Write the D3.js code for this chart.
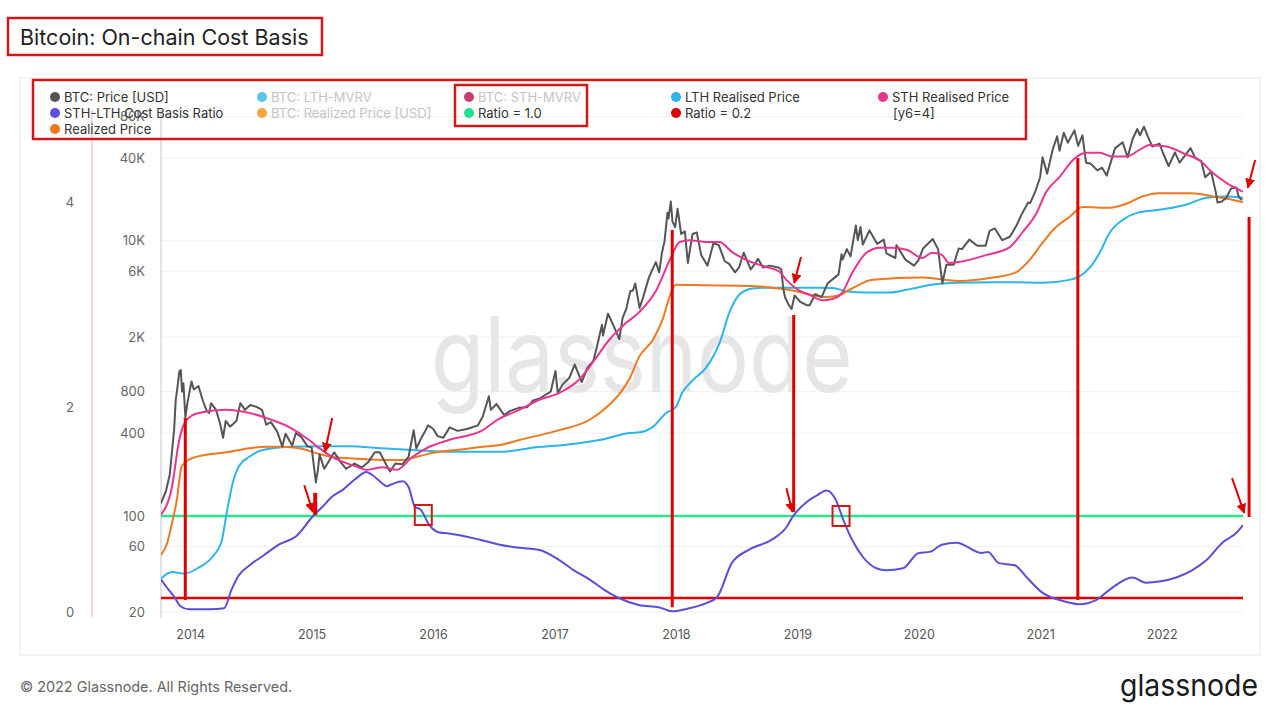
<!DOCTYPE html>
<html><head><meta charset="utf-8">
<script src="https://cdn.jsdelivr.net/npm/d3@7"></script>
<style>
body{margin:0;background:#fff;}
text{font-family:Inter,"Noto Sans",sans-serif;}
</style></head><body>
<svg id="c" width="1280" height="710"></svg>
<script>
// ---------------- DATA ----------------
const yearTicks = [2014,2015,2016,2017,2018,2019,2020,2021,2022];
const priceTicks = [20,60,100,400,800,2000,6000,10000,40000,80000];
const priceTickLabels = ["20","60","100","400","800","2K","6K","10K","40K","80K"];
const ratioTicks = [0,2,4];

const priceDates = ["2013-10-05","2013-10-20","2013-11-01","2013-11-08","2013-11-14","2013-11-19","2013-11-23","2013-11-30","2013-12-04","2013-12-08","2013-12-12","2013-12-18","2013-12-24",
"2014-01-05","2014-01-12","2014-01-26","2014-02-08","2014-02-20","2014-02-27","2014-03-05","2014-03-20","2014-04-01","2014-04-10","2014-04-18","2014-05-01","2014-05-20","2014-06-01","2014-06-15","2014-07-01","2014-07-20","2014-08-05","2014-08-18","2014-09-01","2014-09-20","2014-10-05","2014-10-15","2014-11-04","2014-11-15","2014-12-01","2014-12-20",
"2015-01-01","2015-01-14","2015-01-20","2015-01-25","2015-02-08","2015-02-20","2015-03-10","2015-03-30","2015-04-15","2015-05-10","2015-06-01","2015-06-20","2015-07-10","2015-07-25","2015-08-18","2015-08-25","2015-09-10","2015-10-01","2015-10-20","2015-11-04","2015-11-12","2015-11-25","2015-12-08","2015-12-17",
"2016-01-01","2016-01-15","2016-02-01","2016-02-20","2016-03-15","2016-04-15","2016-05-15","2016-05-30","2016-06-17","2016-06-23","2016-07-10","2016-08-02","2016-08-20","2016-09-15","2016-10-10","2016-10-28","2016-11-15","2016-12-01","2016-12-20",
"2017-01-04","2017-01-11","2017-01-25","2017-02-15","2017-03-03","2017-03-24","2017-04-10","2017-04-28","2017-05-10","2017-05-24","2017-05-27","2017-06-11","2017-06-25","2017-07-15","2017-07-25","2017-08-05","2017-08-17","2017-08-25","2017-09-01","2017-09-14","2017-09-25","2017-10-12","2017-10-20","2017-11-02","2017-11-12","2017-11-20","2017-11-28","2017-12-07","2017-12-10","2017-12-17","2017-12-22","2017-12-30",
"2018-01-06","2018-01-17","2018-01-28","2018-02-06","2018-02-20","2018-03-05","2018-03-18","2018-04-06","2018-04-24","2018-05-10","2018-05-28","2018-06-10","2018-06-28","2018-07-10","2018-07-24","2018-08-14","2018-08-25","2018-09-05","2018-09-20","2018-10-10","2018-11-05","2018-11-14","2018-11-20","2018-11-25","2018-12-07","2018-12-15","2018-12-24",
"2019-01-10","2019-01-29","2019-02-07","2019-02-24","2019-03-15","2019-04-02","2019-04-23","2019-05-05","2019-05-14","2019-05-17","2019-05-30","2019-06-10","2019-06-26","2019-07-02","2019-07-10","2019-07-17","2019-08-06","2019-08-29","2019-09-18","2019-09-26","2019-10-23","2019-10-26","2019-11-22","2019-12-18","2019-12-31",
"2020-01-14","2020-02-12","2020-02-28","2020-03-12","2020-03-24","2020-04-15","2020-04-30","2020-05-10","2020-06-01","2020-06-25","2020-07-20","2020-08-01","2020-08-17","2020-09-08","2020-10-01","2020-10-21","2020-11-05","2020-11-25","2020-12-01","2020-12-17","2020-12-31",
"2021-01-08","2021-01-22","2021-02-08","2021-02-21","2021-02-28","2021-03-13","2021-03-25","2021-04-14","2021-04-25","2021-05-08","2021-05-19","2021-06-01","2021-06-22","2021-07-06","2021-07-20","2021-08-14","2021-09-06","2021-09-21","2021-10-06","2021-10-20","2021-10-28","2021-11-09","2021-11-20","2021-12-04","2021-12-26",
"2022-01-05","2022-01-22","2022-02-10","2022-02-24","2022-03-29","2022-04-12","2022-04-30","2022-05-12","2022-05-30","2022-06-13","2022-06-18","2022-07-01","2022-07-14","2022-07-29","2022-08-14","2022-08-20","2022-08-28","2022-09-01"];
const priceValues = [123,150,200,300,420,700,820,1130,1150,800,920,520,660,
950,830,880,690,580,560,660,590,470,370,490,445,490,660,590,640,620,590,460,480,410,320,395,325,400,375,320,
315,175,215,280,220,245,290,245,220,240,225,245,290,290,225,210,240,237,270,420,310,360,410,455,
430,380,370,440,415,430,455,530,740,590,650,540,580,610,615,690,710,750,800,
1130,780,900,1010,1260,940,1190,1340,1750,2450,2050,2950,2500,1930,2750,3200,4300,4350,4900,3250,3900,5400,6000,7000,5900,8100,9900,16000,14500,19300,13800,12600,
17100,11200,11700,6900,11200,11500,7900,6600,9600,9300,7100,6800,5900,6400,8200,6200,6700,7400,6400,6600,6400,6200,4500,3900,3400,3200,4000,
3600,3400,3400,4100,3900,4900,5400,5700,8000,7300,8700,7700,12900,10100,12600,9400,11900,9500,10200,8100,7500,9300,7300,6600,7200,
8800,10300,8700,4900,6700,6700,8800,8700,10200,9200,9200,11800,12300,10100,10700,12900,15500,19000,18800,23000,29000,
40500,30800,46500,57500,45200,61000,51700,63500,49000,58500,37000,36500,32500,34000,29800,47000,52000,40500,55000,65000,58500,67500,58000,48500,50800,
43500,35000,44000,37000,47200,40000,38000,29000,31800,22500,19000,19300,20500,24000,24400,21200,20000,20000];

// [decimal year, USD]
const sthRealised = [[2013.76,102],[2013.85,162],[2013.91,356],[2013.97,498],[2014.07,560],[2014.30,590],[2014.43,575],[2014.63,514],[2014.82,440],[2014.98,356],[2015.06,312],[2015.17,268],[2015.37,228],[2015.45,216],[2015.53,222],[2015.58,226],[2015.70,216],[2015.83,268],[2015.97,318],[2016.13,356],[2016.41,420],[2016.53,500],[2016.71,589],[2016.87,696],[2017.04,783],[2017.20,973],[2017.33,1360],[2017.45,1900],[2017.57,2445],[2017.70,3040],[2017.84,4395],[2017.95,7260],[2018.03,9800],[2018.11,10100],[2018.25,9800],[2018.36,9800],[2018.46,8300],[2018.58,7260],[2018.74,6460],[2018.85,6000],[2018.91,5200],[2018.99,4500],[2019.10,4040],[2019.21,3700],[2019.29,3780],[2019.37,4200],[2019.45,5800],[2019.57,8200],[2019.68,8900],[2019.78,8900],[2019.90,8600],[2020.03,7500],[2020.11,8200],[2020.19,7900],[2020.25,6900],[2020.33,7020],[2020.56,7900],[2020.75,9000],[2020.85,11400],[2020.97,15950],[2021.05,22700],[2021.16,29150],[2021.27,38700],[2021.38,43600],[2021.49,43600],[2021.59,41000],[2021.71,41000],[2021.82,46000],[2021.90,49800],[2022.04,48500],[2022.20,42500],[2022.31,38700],[2022.42,31200],[2022.53,26500],[2022.67,22700]];
const lthRealised = [[2013.76,35],[2013.85,39],[2013.95,38],[2014.07,42],[2014.18,50],[2014.26,66],[2014.30,104],[2014.35,173],[2014.40,228],[2014.49,270],[2014.59,300],[2014.82,318],[2015.09,321],[2015.31,321],[2015.58,310],[2015.86,300],[2016.13,292],[2016.55,292],[2016.87,317],[2017.04,325],[2017.37,356],[2017.62,400],[2017.70,405],[2017.81,444],[2017.92,560],[2018.00,620],[2018.05,780],[2018.14,970],[2018.25,1200],[2018.36,1810],[2018.44,3000],[2018.52,4040],[2018.63,4500],[2018.74,4550],[2018.96,4550],[2019.16,4550],[2019.29,4540],[2019.40,4300],[2019.57,4200],[2019.76,4200],[2019.95,4500],[2020.11,4800],[2020.33,4950],[2020.61,5000],[2020.83,5000],[2021.02,4950],[2021.24,5200],[2021.32,5500],[2021.41,6400],[2021.49,8200],[2021.57,11400],[2021.68,14200],[2021.79,15900],[2021.98,16800],[2022.20,18300],[2022.37,20600],[2022.53,21000],[2022.67,20600]];
const realizedPrice = [[2013.76,52],[2013.81,63],[2013.85,88],[2013.89,130],[2013.93,228],[2013.99,256],[2014.13,278],[2014.30,290],[2014.49,310],[2014.63,318],[2014.76,318],[2014.90,310],[2015.04,286],[2015.17,268],[2015.31,262],[2015.58,255],[2015.75,255],[2015.86,268],[2015.99,286],[2016.27,306],[2016.41,318],[2016.55,327],[2016.71,356],[2017.04,420],[2017.29,500],[2017.45,640],[2017.55,800],[2017.62,1000],[2017.70,1450],[2017.81,1900],[2017.89,2670],[2017.96,4200],[2018.00,4800],[2018.25,4750],[2018.60,4700],[2018.85,4500],[2018.99,4300],[2019.12,4040],[2019.24,3900],[2019.35,4040],[2019.45,4500],[2019.62,5200],[2020.03,5400],[2020.33,5100],[2020.61,5400],[2020.80,5900],[2020.91,7200],[2021.02,9700],[2021.13,12600],[2021.24,14900],[2021.35,17600],[2021.57,17400],[2021.71,18600],[2021.84,21000],[2021.98,22200],[2022.25,22200],[2022.42,21000],[2022.53,20300],[2022.67,19100]];
// STH-LTH cost basis ratio [decimal year, ratio]
const costBasisRatio = [[2013.76,0.38],[2013.81,0.30],[2013.87,0.21],[2013.92,0.12],[2013.99,0.09],[2014.16,0.09],[2014.28,0.10],[2014.34,0.28],[2014.40,0.42],[2014.49,0.52],[2014.61,0.62],[2014.73,0.72],[2014.87,0.80],[2015.02,1.01],[2015.09,1.09],[2015.17,1.19],[2015.25,1.25],[2015.37,1.37],[2015.45,1.43],[2015.50,1.40],[2015.58,1.32],[2015.62,1.29],[2015.66,1.31],[2015.75,1.34],[2015.80,1.28],[2015.85,1.09],[2015.90,1.06],[2015.97,0.91],[2016.05,0.84],[2016.13,0.83],[2016.38,0.77],[2016.55,0.72],[2016.71,0.69],[2016.87,0.67],[2017.04,0.57],[2017.16,0.47],[2017.29,0.38],[2017.41,0.28],[2017.53,0.20],[2017.70,0.13],[2017.86,0.11],[2017.97,0.07],[2018.11,0.10],[2018.25,0.15],[2018.34,0.21],[2018.46,0.54],[2018.60,0.67],[2018.79,0.77],[2018.91,0.89],[2018.96,0.99],[2019.07,1.13],[2019.16,1.20],[2019.24,1.25],[2019.32,1.15],[2019.37,0.99],[2019.45,0.77],[2019.54,0.60],[2019.65,0.49],[2019.73,0.47],[2019.87,0.49],[2020.00,0.64],[2020.09,0.65],[2020.19,0.72],[2020.31,0.74],[2020.52,0.64],[2020.57,0.65],[2020.66,0.54],[2020.79,0.52],[2020.89,0.40],[2021.02,0.25],[2021.16,0.18],[2021.32,0.14],[2021.46,0.18],[2021.57,0.28],[2021.76,0.40],[2021.87,0.35],[2021.98,0.36],[2022.12,0.40],[2022.25,0.47],[2022.37,0.57],[2022.50,0.74],[2022.62,0.84],[2022.67,0.91]];
const ratioLevels = [1.0, 0.2];

// annotation marks (data units)
const markerLines = [ // year, top price, bottom ratio, width
  [2013.96, 515, 0.18, 3],[2015.03, 147, 1.01, 4],[2017.97, 12000, 0.11, 3],
  [2018.97, 2890, 1.04, 3],[2021.31, 40000, 0.18, 3],[2022.72, 14900, 0.99, 3]];
const priceArrows = [[2015.17,515,2015.11,292],[2019.03,7640,2018.975,4940],[2022.77,38700,2022.71,24300]];
const ratioArrows = [[2014.94,1.30,2015.01,1.04],[2018.91,1.27,2018.96,1.04],[2022.58,1.37,2022.68,1.03]];
const ratioBoxes = [[2015.92,1.01],[2019.36,1.0]];

const legendItems = [
  {label:"BTC: Price [USD]", color:"#555555", faded:false},
  {label:"STH-LTH Cost Basis Ratio", color:"#5a4fe0", faded:false},
  {label:"Realized Price", color:"#f07820", faded:false},
  {label:"BTC: LTH-MVRV", color:"#3cbbea", faded:true},
  {label:"BTC: Realized Price [USD]", color:"#f7941d", faded:true},
  {label:"BTC: STH-MVRV", color:"#c2185b", faded:true},
  {label:"Ratio = 1.0", color:"#22e08a", faded:false},
  {label:"LTH Realised Price", color:"#2cb5e8", faded:false},
  {label:"Ratio = 0.2", color:"#e00000", faded:false},
  {label:"STH Realised Price", color:"#e8358f", faded:false},
  {label:"[y6=4]", color:null, faded:false}
];

// ---------------- DRAW ----------------
const svg = d3.select("#c");
function yr(s){const d=new Date(s+"T00:00:00Z");const y=d.getUTCFullYear();return y+(d-Date.UTC(y,0,1))/(365.25*864e5);}
const price = priceDates.map((d,i)=>[yr(d),priceValues[i]]);

const x = d3.scaleLinear().domain([2013.76, 2022.67]).range([161, 1243]);
const yP = d3.scaleLog().domain([20, 40000]).range([612, 158]);
const yR = d3.scaleLinear().domain([0, 4]).range([618.5, 208.5]);
const RED = "#e00000";

// title
svg.append("rect").attr("x",8).attr("y",18).attr("width",314).attr("height",37).attr("fill","none").attr("stroke","#d01818").attr("stroke-width",2.5);
svg.append("text").attr("x",20).attr("y",44.5).attr("font-size",21.5).attr("fill","#222").text("Bitcoin: On-chain Cost Basis");

// panel
svg.append("rect").attr("x",20).attr("y",78).attr("width",1240).attr("height",577).attr("fill","none").attr("stroke","#e8e8e8").attr("stroke-width",1);

// grid
svg.append("g").selectAll("line").data(priceTicks).join("line")
  .attr("x1",161).attr("x2",1243).attr("y1",d=>yP(d)).attr("y2",d=>yP(d)).attr("stroke","#f0f0f0");

// watermark
svg.append("text").attr("x",431).attr("y",392).attr("font-size",104).attr("fill","#e6e6e6")
  .attr("textLength",422).attr("lengthAdjust","spacingAndGlyphs").text("glassnode");

// axis lines
svg.append("line").attr("x1",92).attr("x2",92).attr("y1",110).attr("y2",617).attr("stroke","#efb8d6").attr("stroke-width",1.2);
svg.append("line").attr("x1",161).attr("x2",161).attr("y1",110).attr("y2",618).attr("stroke","#cfcfcf").attr("stroke-width",1.2);

// price axis
const pAx = svg.append("g").attr("transform","translate(161,0)")
  .call(d3.axisLeft(yP).tickValues(priceTicks).tickFormat((d,i)=>priceTickLabels[i]).tickSize(0).tickPadding(16));
pAx.select(".domain").remove();
pAx.selectAll("text").attr("font-size",13).attr("fill","#666").attr("font-family","Inter");

// ratio axis labels
svg.append("g").selectAll("text").data(ratioTicks).join("text")
  .attr("x",70).attr("y",d=>yR(d)).attr("dy","-0.15em").attr("text-anchor","middle").attr("font-size",13).attr("fill","#666").text(d=>d);

// year axis
const xAx = svg.append("g").attr("transform","translate(0,620)")
  .call(d3.axisBottom(x).tickValues(yearTicks).tickFormat(d3.format("d")).tickSize(0).tickPadding(10));
xAx.select(".domain").remove();
xAx.selectAll("text").attr("font-size",12.5).attr("fill","#555").attr("font-family","Inter");

// clip
svg.append("clipPath").attr("id","clip").append("rect").attr("x",161).attr("y",90).attr("width",1082).attr("height",530);
const plot = svg.append("g").attr("clip-path","url(#clip)");

const lineP = d3.line().x(d=>x(d[0])).y(d=>yP(d[1]));
const lineS = d3.line().x(d=>x(d[0])).y(d=>yP(d[1])).curve(d3.curveMonotoneX);
const lineR = d3.line().x(d=>x(d[0])).y(d=>yR(d[1])).curve(d3.curveMonotoneX);

// ratio levels
plot.selectAll(".lvl").data(ratioLevels).join("line")
  .attr("x1",x(2013.76)).attr("x2",x(2022.67)).attr("y1",d=>yR(d)).attr("y2",d=>yR(d))
  .attr("stroke",(d,i)=>i===0?"#2ee58f":RED).attr("stroke-width",2.6);

plot.append("path").datum(costBasisRatio).attr("d",lineR).attr("fill","none").attr("stroke","#5a4fd8").attr("stroke-width",2);
plot.append("path").datum(lthRealised).attr("d",lineS).attr("fill","none").attr("stroke","#2cb5e8").attr("stroke-width",2);
plot.append("path").datum(realizedPrice).attr("d",lineS).attr("fill","none").attr("stroke","#f07820").attr("stroke-width",2);
plot.append("path").datum(price).attr("d",lineP).attr("fill","none").attr("stroke","#555").attr("stroke-width",2).attr("stroke-linejoin","round");
plot.append("path").datum(sthRealised).attr("d",lineS).attr("fill","none").attr("stroke","#e8358f").attr("stroke-width",2);

// annotations
svg.append("defs").append("marker").attr("id","ah").attr("viewBox","0 0 10 10").attr("refX",9).attr("refY",5)
  .attr("markerWidth",5).attr("markerHeight",5).attr("orient","auto")
  .append("path").attr("d","M0,0L10,5L0,10z").attr("fill",RED);
const ann = svg.append("g");
ann.selectAll(".vl").data(markerLines).join("line")
  .attr("x1",d=>x(d[0])).attr("x2",d=>x(d[0])).attr("y1",d=>yP(d[1])).attr("y2",d=>yR(d[2]))
  .attr("stroke",RED).attr("stroke-width",d=>d[3]);
ann.selectAll(".pa").data(priceArrows).join("line")
  .attr("x1",d=>x(d[0])).attr("y1",d=>yP(d[1])).attr("x2",d=>x(d[2])).attr("y2",d=>yP(d[3]))
  .attr("stroke",RED).attr("stroke-width",2).attr("marker-end","url(#ah)");
ann.selectAll(".ra").data(ratioArrows).join("line")
  .attr("x1",d=>x(d[0])).attr("y1",d=>yR(d[1])).attr("x2",d=>x(d[2])).attr("y2",d=>yR(d[3]))
  .attr("stroke",RED).attr("stroke-width",2).attr("marker-end","url(#ah)");
ann.selectAll(".bx").data(ratioBoxes).join("rect")
  .attr("x",d=>x(d[0])-8.5).attr("y",d=>yR(d[1])-10).attr("width",17).attr("height",20)
  .attr("fill","none").attr("stroke","#d01818").attr("stroke-width",2);

// legend (the 80K tick label sits beneath it, as in the original)
const leg = svg.append("g");
const colX = [55,262,469,676,883];
const pos = [[0,0],[0,1],[0,2],[1,0],[1,1],[2,0],[2,1],[3,0],[3,1],[4,0],[4,1]];
const rowY = [97,113,129];
legendItems.forEach((it,i)=>{
  const [c,r] = pos[i];
  const g = leg.append("g").attr("transform",`translate(${colX[c]},${rowY[r]})`);
  if(it.color) g.append("circle").attr("r",5).attr("fill",it.color).attr("opacity",it.faded?0.85:1);
  g.append("text").attr("x",it.color?9:10).attr("y",0).attr("dy","0.35em").attr("font-size",13)
    .attr("fill",it.faded?"#c4c4c4":"#333").text(it.label);
});
svg.append("rect").attr("x",33).attr("y",80).attr("width",993).attr("height",59).attr("fill","none").attr("stroke","#d01818").attr("stroke-width",2.5);
svg.append("rect").attr("x",455).attr("y",85).attr("width",132).attr("height",41).attr("fill","none").attr("stroke","#d01818").attr("stroke-width",2.5);

// footer
svg.append("text").attr("x",20).attr("y",692).attr("font-size",14.4).attr("fill","#666").text("© 2022 Glassnode. All Rights Reserved.");
svg.append("text").attr("x",1120).attr("y",696).attr("font-size",30).attr("fill","#1a1a1a")
  .attr("textLength",138).attr("lengthAdjust","spacingAndGlyphs").text("glassnode");
</script></body></html>
